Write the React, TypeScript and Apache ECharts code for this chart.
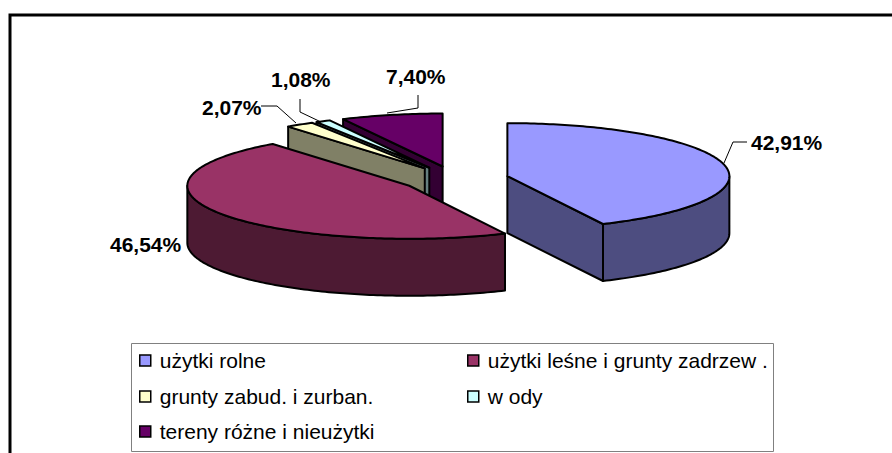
import React, { useEffect, useRef } from "react";
import * as echarts from "echarts";

const categories = [
  "użytki rolne",
  "użytki leśne i grunty zadrzew .",
  "grunty zabud. i zurban.",
  "w ody",
  "tereny różne i nieużytki",
];
const values = [42.91, 46.54, 2.07, 1.08, 7.4];
const topColors = ["#9999FF", "#993366", "#FFFFCC", "#CCFFFF", "#660066"];
const sideColors = ["#4D4D80", "#4D1A33", "#808066", "#668080", "#330033"];

// layout of the 3D pie
const CX = 455, CY = 179, RX = 222, RY = 53, DEPTH = 57, EXPLODE = 53.7;
const FONT = "'Liberation Sans', Arial, sans-serif";
const labelPos = [
  { x: 751, y: 142 },
  { x: 110, y: 244 },
  { x: 202, y: 107 },
  { x: 271, y: 79 },
  { x: 386, y: 76 },
];
const leaders: number[][][] = [
  [[724, 163], [733, 142], [747, 142]],
  [],
  [[261, 106], [277, 106], [296, 123]],
  [[300, 99], [300, 112], [321, 122]],
  [[418, 95], [418, 108], [387, 113]],
];
const legendPos = [
  { left: 139, top: 350 },
  { left: 467, top: 350 },
  { left: 139, top: 386 },
  { left: 467, top: 386 },
  { left: 139, top: 421 },
];
const drawOrder = [4, 3, 2, 1, 0];

const total = values.reduce((a, b) => a + b, 0);
const fmt = (v: number) => v.toFixed(2).replace(".", ",") + "%";

function sliceItem(i: number) {
  const before = values.slice(0, i).reduce((a, b) => a + b, 0);
  const a0 = (before / total) * 360;
  const a1 = ((before + values[i]) / total) * 360;
  const rad = (d: number) => (d * Math.PI) / 180;
  const mid = rad((a0 + a1) / 2);
  const ax = CX + EXPLODE * Math.sin(mid);
  const ay = CY - (EXPLODE * RY * Math.cos(mid)) / RX;
  const P = (d: number, dz = 0) => [ax + RX * Math.sin(rad(d)), ay - RY * Math.cos(rad(d)) + dz];
  const arc = (from: number, to: number, dz = 0) => {
    const pts: number[][] = [];
    const n = Math.max(2, Math.ceil(Math.abs(to - from)));
    for (let k = 0; k <= n; k++) pts.push(P(from + ((to - from) * k) / n, dz));
    return pts;
  };
  const edge = { stroke: "#000", lineWidth: 2, lineJoin: "round" };
  const children: any[] = [];
  const wall = (d: number) => ({
    type: "polygon",
    shape: { points: [[ax, ay], P(d), P(d, DEPTH), [ax, ay + DEPTH]] },
    style: { fill: sideColors[i], ...edge },
  });
  if (a0 > 180 && a0 < 360) children.push(wall(a0));
  if (a1 > 0 && a1 < 180) children.push(wall(a1));
  const r0 = Math.max(a0, 90), r1 = Math.min(a1, 270);
  if (r1 > r0) {
    children.push({
      type: "polygon",
      shape: { points: [...arc(r0, r1), ...arc(r1, r0, DEPTH)] },
      style: { fill: sideColors[i], ...edge },
    });
  }
  children.push({
    type: "polygon",
    shape: { points: [[ax, ay], ...arc(a0, a1)] },
    style: { fill: topColors[i], ...edge },
  });
  if (leaders[i].length) {
    children.push({
      type: "polyline",
      shape: { points: leaders[i] },
      style: { stroke: "#000", lineWidth: 1, fill: "none" },
    });
  }
  children.push({
    type: "text",
    x: labelPos[i].x,
    y: labelPos[i].y,
    style: {
      text: fmt(values[i]),
      fill: "#000",
      font: `bold 21px ${FONT}`,
      textAlign: "left",
      textVerticalAlign: "middle",
    },
  });
  return { type: "group", children };
}

export default function App() {
  const ref = useRef<HTMLDivElement>(null);
  useEffect(() => {
    const chart = echarts.init(ref.current!, undefined, { renderer: "svg" });
    chart.setOption({
      animation: false,
      backgroundColor: "#fff",
      graphic: [
        {
          type: "polyline",
          shape: { points: [[10, 453], [10, 15], [892, 15]] },
          style: { fill: "none", stroke: "#000", lineWidth: 3 },
          silent: true,
        },
        {
          type: "rect",
          shape: { x: 131.5, y: 343.5, width: 642, height: 108 },
          style: { fill: "none", stroke: "#808080", lineWidth: 1 },
          silent: true,
        },
      ],
      legend: categories.map((c, i) => ({
        data: [c],
        left: legendPos[i].left,
        top: legendPos[i].top,
        padding: 0,
        icon: "rect",
        itemWidth: 11,
        itemHeight: 11,
        selectedMode: false,
        itemStyle: { borderColor: "#000", borderWidth: 1.5 },
        textStyle: { fontFamily: FONT, fontSize: 21, color: "#000", padding: [0, 0, 0, 4] },
      })),
      series: drawOrder.map((i) => ({
        type: "custom",
        name: categories[i],
        coordinateSystem: "none",
        silent: true,
        itemStyle: { color: topColors[i] },
        data: [[values[i]]],
        renderItem: () => sliceItem(i),
      })),
    });
    return () => chart.dispose();
  }, []);
  return <div ref={ref} style={{ position: "absolute", left: 0, top: 0, width: 892, height: 453 }} />;
}
